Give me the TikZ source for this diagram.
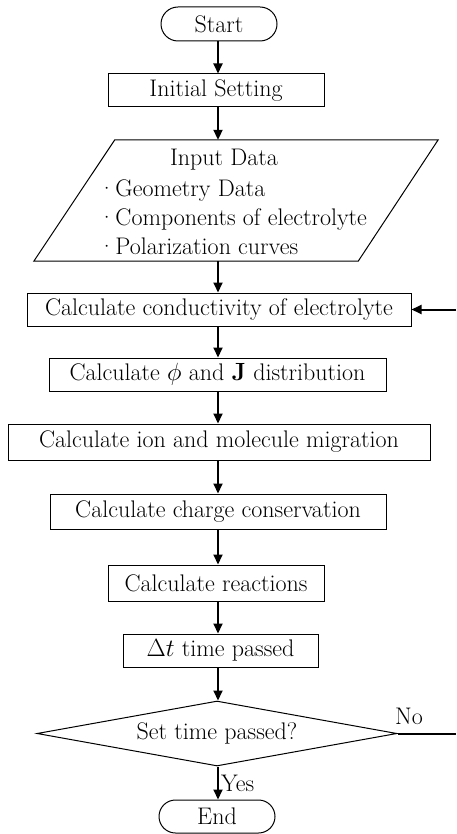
\documentclass[tikz,border=0pt]{standalone}
\usetikzlibrary{arrows.meta,shapes.geometric,shapes.misc}
\begin{document}
\begin{tikzpicture}[x=1pt,y=-1pt,
  every node/.style={font=\fontsize{24}{29}\selectfont},
  box/.style={draw,line width=1pt,inner sep=0pt},
  term/.style={draw,line width=1pt,rounded rectangle,inner sep=0pt},
  dec/.style={draw,line width=1pt,diamond,aspect=5.5,inner sep=0pt},
  arr/.style={line width=2pt,-{Triangle[length=10pt,width=9pt]}},
  lbl/.style={inner sep=0pt}]
\useasboundingbox (0,0) rectangle (456,834);
\node[term,minimum width=116pt,minimum height=34pt] (start) at (219,24) {Start};
\node[box,minimum width=216pt,minimum height=33pt] (init) at (216,90.5) {Initial Setting};
\node[inner sep=0pt,minimum width=404pt,minimum height=121pt] (input) at (236,200.5) {};
\draw[line width=1pt] ([xshift=81pt]input.north west) -- (input.north east)
  -- ([xshift=-80pt]input.south east) -- (input.south west) -- cycle;
\node[lbl] (intitle) at (224,160) {Input Data};
\node[lbl,anchor=west,align=left] (inlist) at (98,217) {\textperiodcentered Geometry Data\\\textperiodcentered Components of electrolyte\\\textperiodcentered Polarization curves};
\node[box,minimum width=384pt,minimum height=33pt] (cond) at (219,309.5) {Calculate conductivity of electrolyte};
\node[box,minimum width=337pt,minimum height=33pt] (phi) at (217.5,374.5) {Calculate $\phi$ and $\mathbf{J}$ distribution};
\node[box,minimum width=422pt,minimum height=36pt] (ion) at (219,442) {Calculate ion and molecule migration};
\node[box,minimum width=336pt,minimum height=35pt] (charge) at (218,511.5) {Calculate charge conservation};
\node[box,minimum width=216pt,minimum height=36pt] (react) at (216,583) {Calculate reactions};
\node[box,minimum width=195pt,minimum height=33pt] (dt) at (220.5,650.5) {$\Delta t$ time passed};
\node[dec,minimum width=360pt,minimum height=65pt] (dec) at (217,733.5) {Set time passed?};
\node[term,minimum width=116pt,minimum height=33pt] (end) at (217,816.5) {End};
\coordinate (edge) at (456,0);
\coordinate (spine) at (218,0);
\draw[arr] (start.south -| spine) -- (init.north -| spine);
\draw[arr] (init.south -| spine) -- (input.north -| spine);
\draw[arr] (input.south -| spine) -- (cond.north -| spine);
\draw[arr] (cond.south -| spine) -- (phi.north -| spine);
\draw[arr] (phi.south -| spine) -- (ion.north -| spine);
\draw[arr] (ion.south -| spine) -- (charge.north -| spine);
\draw[arr] (charge.south -| spine) -- (react.north -| spine);
\draw[arr] (react.south -| spine) -- (dt.north -| spine);
\draw[arr] (dt.south -| spine) -- (dec.north -| spine);
\draw[arr] (dec.south -| spine) -- (end.north -| spine) node[lbl,pos=0.5,anchor=west,xshift=2pt] (yes) {Yes};
\draw[line width=2pt] (dec.east) -- (dec.east -| edge);
\node[lbl] (no) at (409,716) {No};
\draw[arr] (cond.east -| edge) -- (cond.east);
\end{tikzpicture}
\end{document}
